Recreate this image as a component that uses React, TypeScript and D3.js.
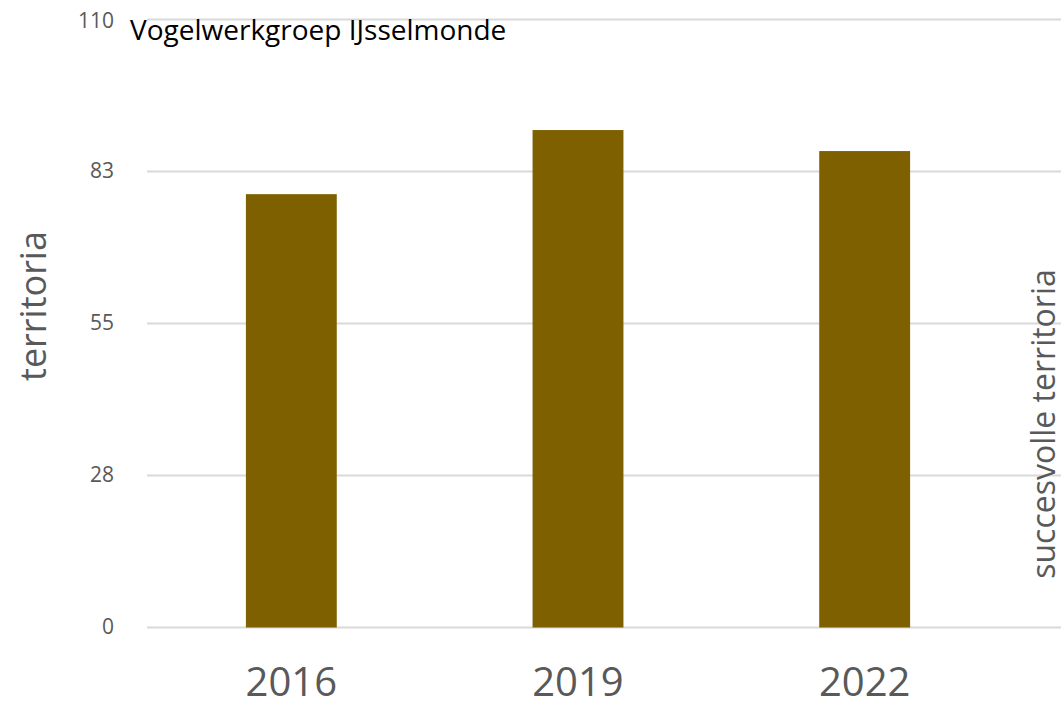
import React from "react";
import * as d3 from "d3";

// data
const YEARS = ["2016", "2019", "2022"];
const TERRITORIA = [78.4, 90, 86.2];
const Y_TICKS = [0, 27.5, 55, 82.5, 110];
const TITLE = "Vogelwerkgroep IJsselmonde";
const Y_LABEL = "territoria";
const Y2_LABEL = "succesvolle territoria";

const W = 1061;
const H = 702;
const FONT = "'Open Sans', 'Liberation Sans', sans-serif";

export default function App() {
  const plot = { left: 148, right: 1008, top: 19.5, bottom: 627.5 };

  const x = d3
    .scaleBand<string>()
    .domain(YEARS)
    .range([plot.left, plot.right])
    .paddingInner(0.683)
    .paddingOuter(0.3415);

  const y = d3.scaleLinear().domain([0, 110]).range([plot.bottom, plot.top]);

  return (
    <div style={{ position: "absolute", left: 0, top: 0 }}>
      <svg width={W} height={H} style={{ display: "block", background: "#fff" }} fontFamily={FONT}>
        {/* gridlines */}
        {Y_TICKS.map((t) => (
          <line
            key={"g" + t}
            x1={plot.left - 1}
            x2={W}
            y1={y(t)}
            y2={y(t)}
            stroke="#d9d9d9"
            strokeWidth={2}
          />
        ))}

        {/* bars */}
        {YEARS.map((yr, i) => (
          <rect
            key={yr}
            x={x(yr)}
            y={y(TERRITORIA[i])}
            width={x.bandwidth()}
            height={y(0) - y(TERRITORIA[i])}
            fill="#7f6000"
          />
        ))}

        {/* y tick labels */}
        {Y_TICKS.map((t) => (
          <text
            key={"t" + t}
            x={114}
            y={t === 110 ? y(t) + 2.5 : y(t) + 1}
            textAnchor="end"
            dominantBaseline="middle"
            fontSize={21}
            fill="#595959"
          >
            {Math.round(t)}
          </text>
        ))}

        {/* x tick labels */}
        {YEARS.map((yr) => (
          <text
            key={"x" + yr}
            x={(x(yr) ?? 0) + x.bandwidth() / 2}
            y={696}
            textAnchor="middle"
            fontSize={40}
            fill="#595959"
          >
            {yr}
          </text>
        ))}

        {/* title */}
        <text x={130} y={40} fontSize={28} fill="#000">
          {TITLE}
        </text>

        {/* axis titles */}
        <text
          transform={`translate(46,306) rotate(-90)`}
          textAnchor="middle"
          fontSize={36}
          fill="#595959"
        >
          {Y_LABEL}
        </text>
        <text
          transform={`translate(1055,424) rotate(-90)`}
          textAnchor="middle"
          fontSize={32}
          fill="#595959"
        >
          {Y2_LABEL}
        </text>
      </svg>
    </div>
  );
}
